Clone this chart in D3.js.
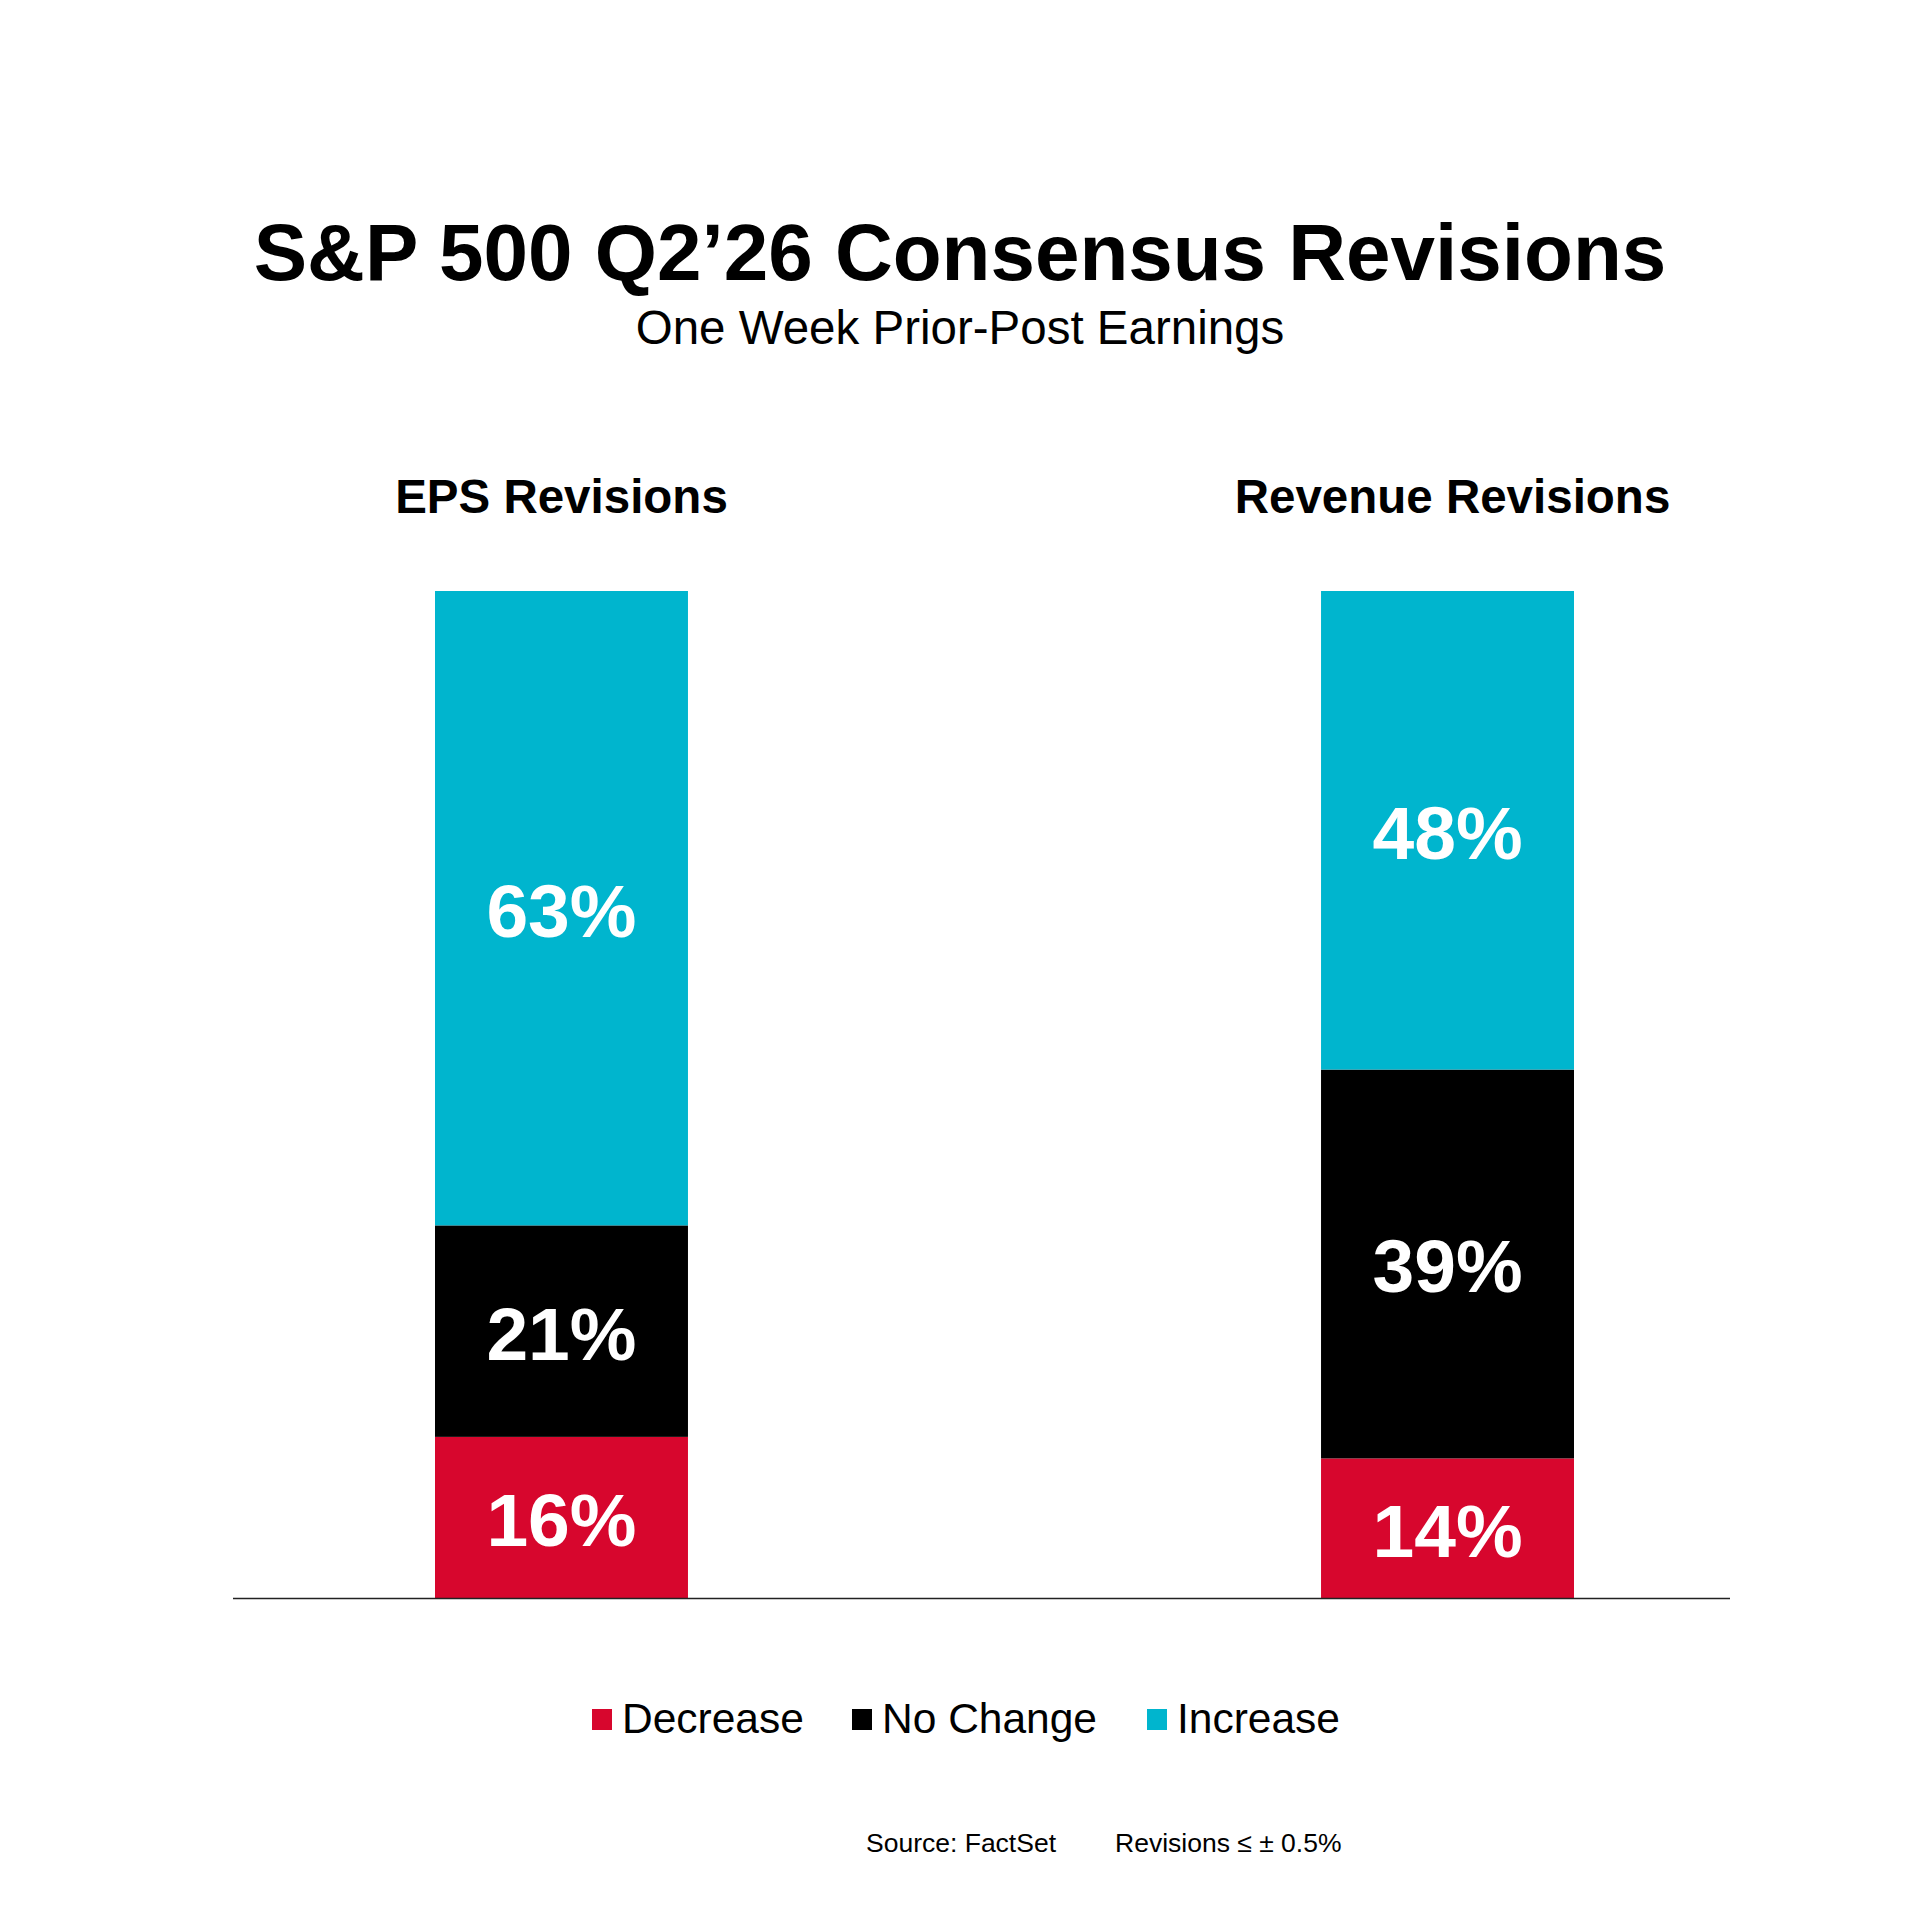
<!DOCTYPE html>
<html>
<head>
<meta charset="utf-8">
<script src="https://cdn.jsdelivr.net/npm/d3@7"></script>
<style>
  html, body { margin: 0; padding: 0; background: #fff; }
  svg text { font-family: "Liberation Sans", Arial, Helvetica, sans-serif; }
</style>
</head>
<body>
<div id="chart"></div>
<script>
// chart data
var categories = ["EPS Revisions", "Revenue Revisions"];
var seriesNames = ["Decrease", "No Change", "Increase"];
var decreaseValues = [16, 14];
var noChangeValues = [21, 39];
var increaseValues = [63, 48];
var seriesColors = ["#d7062d", "#000000", "#00b5ce"];

var width = 1920, height = 1920;

var rows = categories.map(function (c, i) {
    return {
        category: c,
        "Decrease": decreaseValues[i],
        "No Change": noChangeValues[i],
        "Increase": increaseValues[i]
    };
});

var svg = d3.select("#chart")
    .append("svg")
    .attr("width", width)
    .attr("height", height);

// titles
svg.append("text")
    .attr("x", 960)
    .attr("y", 280)
    .attr("text-anchor", "middle")
    .attr("font-size", "80px")
    .attr("font-weight", "bold")
    .attr("fill", "#000")
    .text("S&P 500 Q2\u201926 Consensus Revisions");

svg.append("text")
    .attr("x", 960)
    .attr("y", 344)
    .attr("text-anchor", "middle")
    .attr("font-size", "47.5px")
    .attr("fill", "#000")
    .text("One Week Prior-Post Earnings");

// scales
var x = d3.scaleBand()
    .domain(categories)
    .range([435, 1574])
    .paddingInner(0.7145);

var y = d3.scaleLinear()
    .domain([0, 1])
    .range([1598, 591]);

var stack = d3.stack()
    .keys(seriesNames)
    .offset(d3.stackOffsetExpand);

var layers = stack(rows);

var color = d3.scaleOrdinal()
    .domain(seriesNames)
    .range(seriesColors);

// panel headings
svg.selectAll(".panel-title")
    .data(categories)
    .enter()
    .append("text")
    .attr("class", "panel-title")
    .attr("x", function (d, i) { return x(d) + x.bandwidth() / 2 + (i === 1 ? 5 : 0); })
    .attr("y", 513)
    .attr("text-anchor", "middle")
    .attr("font-size", "47.5px")
    .attr("font-weight", "bold")
    .attr("fill", "#000")
    .text(function (d) { return d; });

// stacked bars
var layer = svg.selectAll(".layer")
    .data(layers)
    .enter()
    .append("g")
    .attr("class", "layer")
    .attr("fill", function (d) { return color(d.key); });

layer.selectAll("rect")
    .data(function (d) { return d; })
    .enter()
    .append("rect")
    .attr("x", function (d) { return x(d.data.category); })
    .attr("y", function (d) { return y(d[1]); })
    .attr("width", x.bandwidth())
    .attr("height", function (d) { return y(d[0]) - y(d[1]); });

// value labels
layers.forEach(function (l) {
    svg.selectAll(".label-" + l.index)
        .data(l)
        .enter()
        .append("text")
        .attr("class", "label-" + l.index)
        .attr("x", function (d) { return x(d.data.category) + x.bandwidth() / 2; })
        .attr("y", function (d) { return (y(d[0]) + y(d[1])) / 2; })
        .attr("dy", "0.38em")
        .attr("text-anchor", "middle")
        .attr("font-size", "75px")
        .attr("font-weight", "bold")
        .attr("fill", "#fff")
        .text(function (d) { return d.data[l.key] + "%"; });
});

// baseline
svg.append("line")
    .attr("x1", 233)
    .attr("x2", 1730)
    .attr("y1", y(0) + 0.5)
    .attr("y2", y(0) + 0.5)
    .attr("stroke", "#222")
    .attr("stroke-width", 1.5);

// legend
var legendX = [592, 852, 1147];
var legend = svg.selectAll(".legend")
    .data(seriesNames)
    .enter()
    .append("g")
    .attr("class", "legend")
    .attr("transform", function (d, i) { return "translate(" + legendX[i] + ",1709)"; });

legend.append("rect")
    .attr("width", 20)
    .attr("height", 21)
    .attr("fill", function (d) { return color(d); });

legend.append("text")
    .attr("x", 30)
    .attr("y", 24)
    .attr("font-size", "42.5px")
    .attr("fill", "#000")
    .text(function (d) { return d; });

// footnotes
svg.append("text")
    .attr("x", 866)
    .attr("y", 1852)
    .attr("font-size", "26.5px")
    .attr("fill", "#000")
    .text("Source: FactSet");

svg.append("text")
    .attr("x", 1115)
    .attr("y", 1852)
    .attr("font-size", "26.5px")
    .attr("fill", "#000")
    .text("Revisions \u2264 \u00b1 0.5%");
</script>
</body>
</html>
